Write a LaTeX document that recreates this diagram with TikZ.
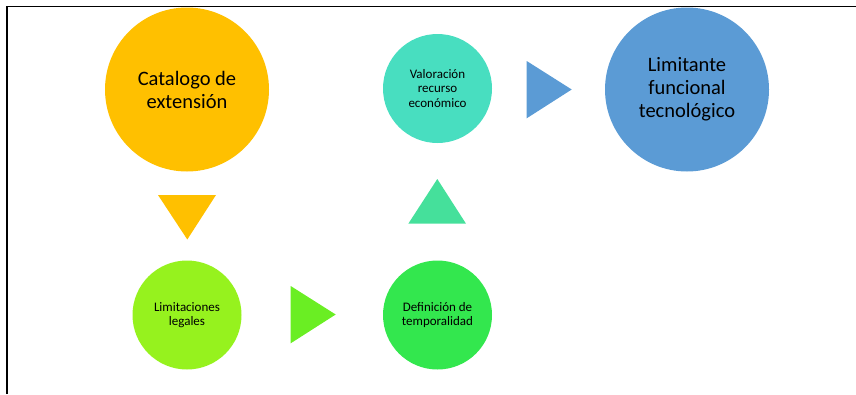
\documentclass[tikz,border=0pt]{standalone}
\usepackage{fontspec}
\setmainfont{Carlito}
\begin{document}
\begin{tikzpicture}[x=1pt,y=-1pt,
  bigcirc/.style={circle,inner sep=0pt,minimum size=164pt,align=center,
    font=\fontsize{20.5}{23}\selectfont},
  smallcirc/.style={circle,inner sep=0pt,minimum size=109pt,align=center,
    font=\fontsize{13}{14.5}\selectfont},
  frameline/.style={line width=1.6pt,black}]
\useasboundingbox (0,0) rectangle (856,394);
\definecolor{cYellow}{HTML}{FFC000}
\definecolor{cLime}{HTML}{96F21E}
\definecolor{cGreenTri}{HTML}{6AEE23}
\definecolor{cGreen}{HTML}{33E74E}
\definecolor{cTealTri}{HTML}{45E09B}
\definecolor{cTeal}{HTML}{48DEC0}
\definecolor{cBlue}{HTML}{5B9BD5}

% frame
\draw[frameline] (7,394) -- (7,6.5) -- (856,6.5);

% circles
\node[bigcirc,fill=cYellow] (cat) at (187,89.5) {Catalogo de\\extensión};
\node[smallcirc,fill=cLime] (lim) at (187,315) {Limitaciones\\legales};
\node[smallcirc,fill=cGreen] (def) at (437.5,315) {Definición de\\temporalidad};
\node[smallcirc,fill=cTeal] (val) at (437.5,88.5) {Valoración\\recurso\\económico};
\node[bigcirc,fill=cBlue] (ltf) at (687,89.5) {Limitante\\funcional\\tecnológico};

% arrow triangles between the steps
\fill[cYellow] (158,195) -- (216,195) -- (187.3,239.5) -- cycle;
\fill[cGreenTri] (290.7,286) -- (335.7,314.5) -- (290.7,343.3) -- cycle;
\fill[cTealTri] (408.3,223.7) -- (437.3,179) -- (466,223.7) -- cycle;
\fill[cBlue] (526.7,61) -- (571.7,89.5) -- (526.7,118.3) -- cycle;
\end{tikzpicture}
\end{document}
